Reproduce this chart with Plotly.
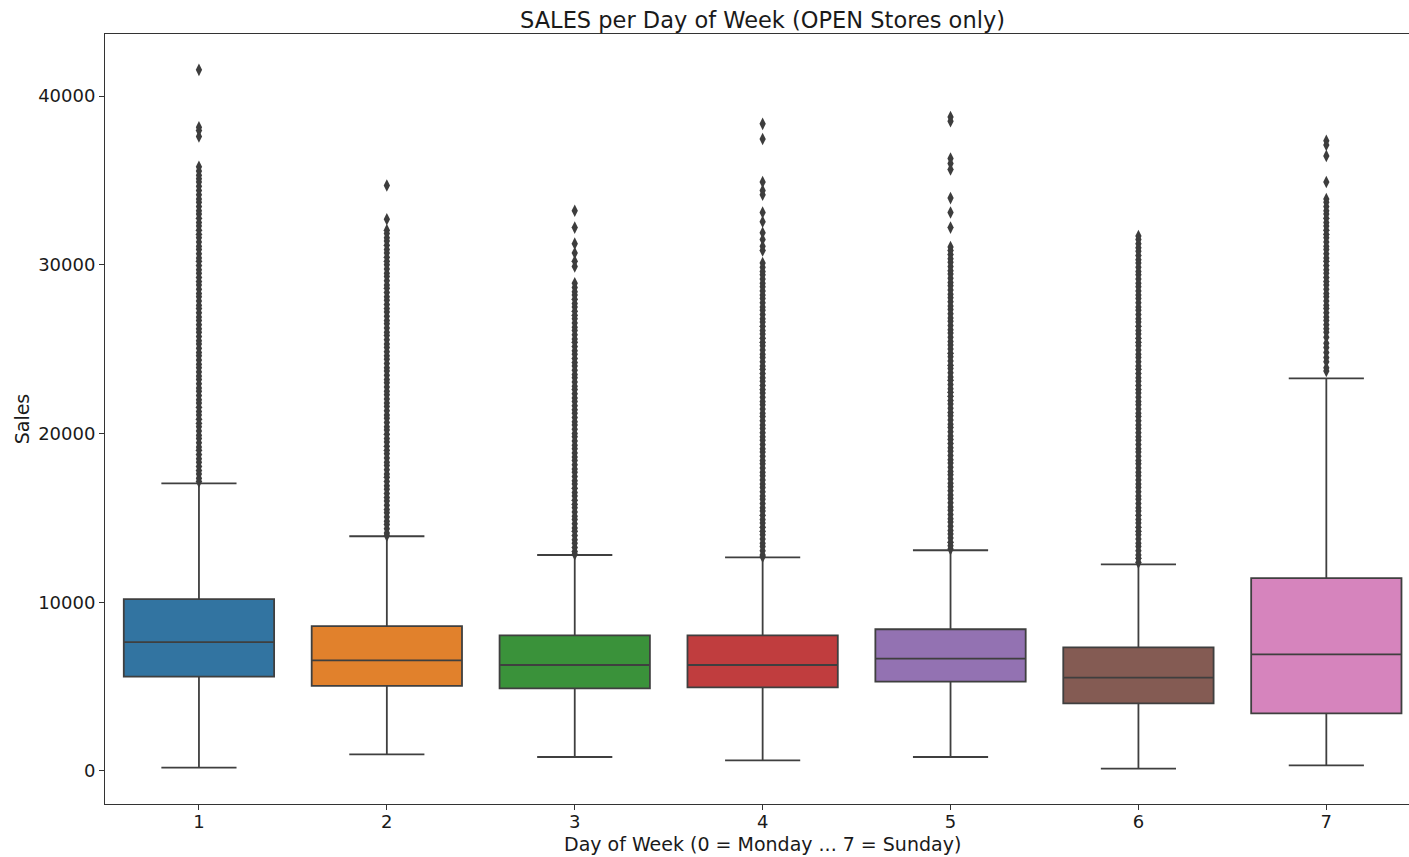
import plotly.graph_objects as go

# Day-of-week categories and per-day box statistics (sales of open stores)
days = [1, 2, 3, 4, 5, 6, 7]
q1 = [5590, 5040, 4900, 4960, 5290, 4010, 3420]
median = [7640, 6560, 6280, 6280, 6660, 5530, 6910]
q3 = [10190, 8590, 8040, 8040, 8400, 7330, 11430]
lower_whisker = [200, 990, 830, 630, 830, 140, 330]
upper_whisker = [17050, 13910, 12800, 12660, 13080, 12250, 23270]

colors = ["#3274a1", "#e1812c", "#3a923a", "#c03d3e", "#9372b2", "#845b53", "#d684bd"]

# Outlying sales values per day (beyond the upper whisker)
outliers_1 = [41550, 38150, 37950, 37600,
              35800, 35550, 35300, 35100, 34900, 34650, 34400, 34150, 33900, 33700, 33450, 33200,
              33000, 32750, 32500, 32300, 32050, 31800, 31600, 31350, 31100, 30900, 30650, 30400,
              30200, 29950, 29700, 29500, 29250, 29000, 28800, 28550, 28300, 28100, 27850, 27600,
              27400, 27150, 26900, 26700, 26450, 26200, 26000, 25750, 25500, 25300, 25050, 24800,
              24600, 24350, 24100, 23900, 23650, 23400, 23200, 22950, 22700, 22500, 22250, 22000,
              21800, 21550, 21300, 21100, 20850, 20600, 20400, 20150, 19900, 19700, 19450, 19200,
              19000, 18750, 18500, 18300, 18050, 17800, 17600, 17350, 17150]
outliers_2 = [34700, 32700,
              32050, 31850, 31600, 31400, 31150, 30900, 30700, 30450, 30200, 30000, 29750, 29500,
              29300, 29050, 28800, 28600, 28350, 28100, 27900, 27650, 27400, 27200, 26950, 26700,
              26500, 26250, 26000, 25800, 25550, 25300, 25100, 24850, 24600, 24400, 24150, 23900,
              23700, 23450, 23200, 23000, 22750, 22500, 22300, 22050, 21800, 21600, 21350, 21100,
              20900, 20650, 20400, 20200, 19950, 19700, 19500, 19250, 19000, 18800, 18550, 18300,
              18100, 17850, 17600, 17400, 17150, 16900, 16700, 16450, 16200, 16000, 15750, 15500,
              15300, 15050, 14800, 14600, 14350, 14100, 13950]
outliers_3 = [33200, 32200, 31250, 30700, 30200, 29900,
              28900, 28650, 28400, 28200, 27950, 27700, 27500, 27250, 27000, 26800, 26550, 26300,
              26100, 25850, 25600, 25400, 25150, 24900, 24700, 24450, 24200, 24000, 23750, 23500,
              23300, 23050, 22800, 22600, 22350, 22100, 21900, 21650, 21400, 21200, 20950, 20700,
              20500, 20250, 20000, 19800, 19550, 19300, 19100, 18850, 18600, 18400, 18150, 17900,
              17700, 17450, 17200, 17000, 16750, 16500, 16300, 16050, 15800, 15600, 15350, 15100,
              14900, 14650, 14400, 14200, 13950, 13700, 13500, 13250, 13000, 12850]
outliers_4 = [38350, 37450, 34900, 34400, 34150, 33100, 32550, 31900, 31500, 31100, 30850,
              30100, 29850, 29600, 29400, 29150, 28900, 28700, 28450, 28200, 28000, 27750, 27500,
              27300, 27050, 26800, 26600, 26350, 26100, 25900, 25650, 25400, 25200, 24950, 24700,
              24500, 24250, 24000, 23800, 23550, 23300, 23100, 22850, 22600, 22400, 22150, 21900,
              21700, 21450, 21200, 21000, 20750, 20500, 20300, 20050, 19800, 19600, 19350, 19100,
              18900, 18650, 18400, 18200, 17950, 17700, 17500, 17250, 17000, 16800, 16550, 16300,
              16100, 15850, 15600, 15400, 15150, 14900, 14700, 14450, 14200, 14000, 13750, 13500,
              13300, 13050, 12800, 12700]
outliers_5 = [38750, 38500, 36300, 36000, 35650, 33950, 33100, 32200,
              31050, 30850, 30600, 30350, 30150, 29900, 29650, 29450, 29200, 28950, 28750, 28500,
              28250, 28050, 27800, 27550, 27350, 27100, 26850, 26650, 26400, 26150, 25950, 25700,
              25450, 25250, 25000, 24750, 24550, 24300, 24050, 23850, 23600, 23350, 23150, 22900,
              22650, 22450, 22200, 21950, 21750, 21500, 21250, 21050, 20800, 20550, 20350, 20100,
              19850, 19650, 19400, 19150, 18950, 18700, 18450, 18250, 18000, 17750, 17550, 17300,
              17050, 16850, 16600, 16350, 16150, 15900, 15650, 15450, 15200, 14950, 14750, 14500,
              14250, 14050, 13800, 13550, 13350, 13150]
outliers_6 = [31700, 31500, 31250, 31000, 30800, 30550, 30300, 30100, 29850, 29600, 29400, 29150,
              28900, 28700, 28450, 28200, 28000, 27750, 27500, 27300, 27050, 26800, 26600, 26350,
              26100, 25900, 25650, 25400, 25200, 24950, 24700, 24500, 24250, 24000, 23800, 23550,
              23300, 23100, 22850, 22600, 22400, 22150, 21900, 21700, 21450, 21200, 21000, 20750,
              20500, 20300, 20050, 19800, 19600, 19350, 19100, 18900, 18650, 18400, 18200, 17950,
              17700, 17500, 17250, 17000, 16800, 16550, 16300, 16100, 15850, 15600, 15400, 15150,
              14900, 14700, 14450, 14200, 14000, 13750, 13500, 13300, 13050, 12800, 12600, 12350]
outliers_7 = [37350, 37100, 36450, 34900,
              33900, 33700, 33450, 33200, 33000, 32750, 32500, 32300, 32050, 31800, 31600, 31350,
              31100, 30900, 30650, 30400, 30200, 29950, 29700, 29500, 29250, 29000, 28800, 28550,
              28300, 28100, 27850, 27600, 27400, 27150, 26900, 26700, 26450, 26200, 26000, 25700,
              25350, 25100, 24800, 24500, 24250, 23900, 23700]

outliers = [outliers_1, outliers_2, outliers_3, outliers_4, outliers_5, outliers_6, outliers_7]

y_ticks = [0, 10000, 20000, 30000, 40000]

FONT = "DejaVu Sans"
TEXT = "#1a1a1a"
EDGE = "#3f3f3f"

fig = go.Figure()

for i, d in enumerate(days):
    fig.add_trace(go.Box(
        x=[d],
        q1=[q1[i]], median=[median[i]], q3=[q3[i]],
        lowerfence=[lower_whisker[i]], upperfence=[upper_whisker[i]],
        width=0.8,
        whiskerwidth=0.5,
        fillcolor=colors[i],
        line=dict(color=EDGE, width=1.8),
        boxpoints=False,
        showlegend=False,
        hoverinfo="skip",
    ))

# Flier markers drawn as thin diamonds
out_x, out_y = [], []
for d, vals in zip(days, outliers):
    out_x.extend([d] * len(vals))
    out_y.extend(vals)

fig.add_trace(go.Scatter(
    x=out_x, y=out_y, mode="markers",
    marker=dict(symbol="diamond-tall", size=9, color="#3d3d3d", line=dict(width=0)),
    showlegend=False, hoverinfo="skip",
))

fig.update_layout(
    width=1409, height=857,
    margin=dict(l=105, r=0, t=34, b=53),
    paper_bgcolor="white", plot_bgcolor="white",
    font=dict(family=FONT, color=TEXT, size=18),
    annotations=[
        dict(text="SALES per Day of Week (OPEN Stores only)", xref="paper", yref="paper",
             x=0.504, y=1, yshift=14, xanchor="center", yanchor="middle",
             showarrow=False, font=dict(family=FONT, size=22.5, color=TEXT)),
        dict(text="Day of Week (0 = Monday ... 7 = Sunday)", xref="paper", yref="paper",
             x=0.504, y=0, yshift=-40, xanchor="center", yanchor="middle",
             showarrow=False, font=dict(family=FONT, size=19, color=TEXT)),
    ],
)

fig.update_xaxes(
    range=[0.5, 7.44],
    tickmode="array", tickvals=days, ticktext=[str(d) for d in days],
    ticks="outside", ticklen=5, tickwidth=1, tickcolor="#333",
    ticklabelstandoff=-4,
    showline=True, linecolor="#333", linewidth=1, mirror=True,
    showgrid=False, zeroline=False,
    tickfont=dict(family=FONT, size=18, color=TEXT),
)
fig.update_yaxes(
    range=[-1956, 43674],
    tickmode="array", tickvals=y_ticks, ticktext=[str(v) for v in y_ticks],
    ticks="outside", ticklen=5, tickwidth=1, tickcolor="#333",
    showline=True, linecolor="#333", linewidth=1,
    showgrid=False, zeroline=False,
    title=dict(text="Sales", font=dict(family=FONT, size=19, color=TEXT), standoff=3),
    tickfont=dict(family=FONT, size=18, color=TEXT),
)

fig.write_html("out.html")
